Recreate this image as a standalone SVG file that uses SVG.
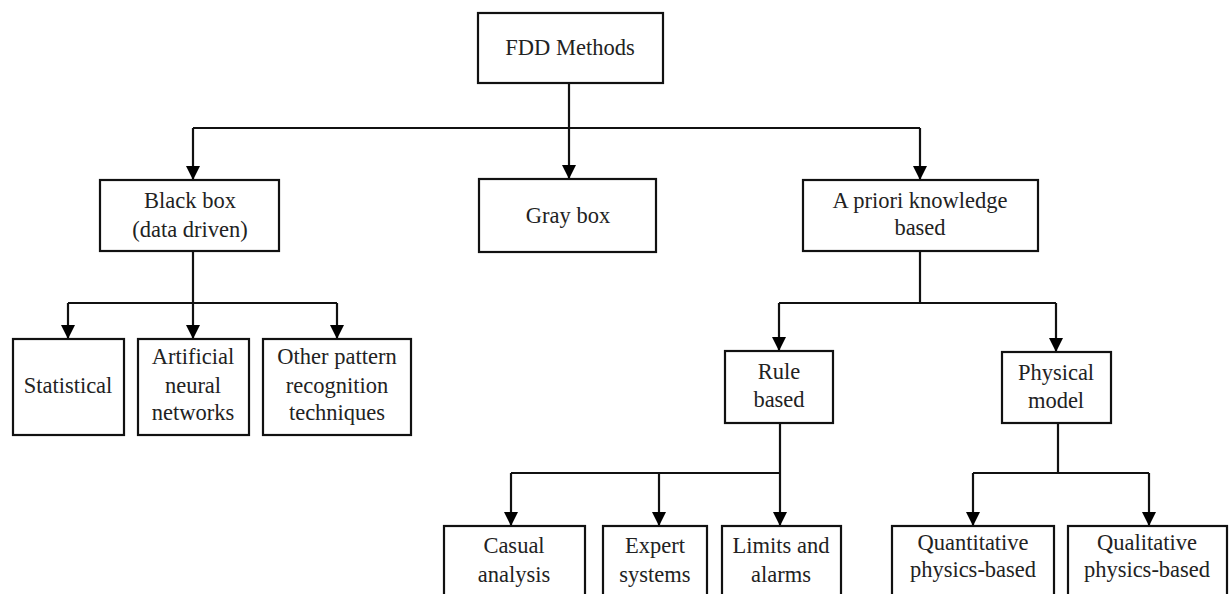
<svg xmlns="http://www.w3.org/2000/svg" width="1230" height="594" viewBox="0 0 1230 594">
<defs>
<marker id="arr" markerUnits="userSpaceOnUse" viewBox="0 0 14 14" refX="14" refY="7" markerWidth="14" markerHeight="14" orient="auto">
<path d="M0,0 L14,7 L0,14 Z" fill="#000"/>
</marker>
<style>
.box{fill:#fff;stroke:#111;stroke-width:2.2}
.t{font-family:"Liberation Serif","Times New Roman",serif;font-size:22.5px;fill:#222;text-anchor:middle}
.c{fill:none;stroke:#111;stroke-width:2.2}
.a{fill:none;stroke:#111;stroke-width:2.2;marker-end:url(#arr)}
</style>
</defs>
<rect width="1230" height="594" fill="#fff"/>
<g id="connectors">
<path class="c" d="M569,83 V128 M193,128 H920"/>
<path class="a" d="M193,128 V180"/>
<path class="a" d="M569,128 V179"/>
<path class="a" d="M920,128 V180"/>
<path class="c" d="M193,251 V303 M68,303 H337"/>
<path class="a" d="M68,303 V339"/>
<path class="a" d="M193,303 V339"/>
<path class="a" d="M337,303 V339"/>
<path class="c" d="M920,251 V303 M779,303 H1056"/>
<path class="a" d="M779,303 V351"/>
<path class="a" d="M1056,303 V352"/>
<path class="c" d="M780,423 V473 M511,473 H780"/>
<path class="a" d="M511,473 V526"/>
<path class="a" d="M659,473 V526"/>
<path class="a" d="M780,473 V526"/>
<path class="c" d="M1058,423 V473 M973,473 H1149"/>
<path class="a" d="M973,473 V526"/>
<path class="a" d="M1149,473 V526"/>
</g>
<g id="fdd"><rect class="box" x="478" y="13" width="185" height="70"/><text class="t" x="570" y="55">FDD Methods</text></g>
<g id="blackbox"><rect class="box" x="100" y="180" width="179" height="71"/><text class="t" x="190" y="208">Black box</text><text class="t" x="190" y="237">(data driven)</text></g>
<g id="graybox"><rect class="box" x="479" y="179" width="177" height="73"/><text class="t" x="568" y="223">Gray box</text></g>
<g id="apriori"><rect class="box" x="803" y="180" width="235" height="71"/><text class="t" x="920" y="208">A priori knowledge</text><text class="t" x="920" y="235">based</text></g>
<g id="statistical"><rect class="box" x="13" y="339" width="111" height="96"/><text class="t" x="68" y="393">Statistical</text></g>
<g id="ann"><rect class="box" x="138" y="339" width="111" height="96"/><text class="t" x="193" y="364">Artificial</text><text class="t" x="193" y="393">neural</text><text class="t" x="193" y="420">networks</text></g>
<g id="other"><rect class="box" x="263" y="339" width="148" height="96"/><text class="t" x="337" y="364">Other pattern</text><text class="t" x="337" y="393">recognition</text><text class="t" x="337" y="420">techniques</text></g>
<g id="rule"><rect class="box" x="725" y="351" width="108" height="72"/><text class="t" x="779" y="379">Rule</text><text class="t" x="779" y="407">based</text></g>
<g id="physical"><rect class="box" x="1002" y="352" width="109" height="71"/><text class="t" x="1056" y="380">Physical</text><text class="t" x="1056" y="408">model</text></g>
<g id="casual"><rect class="box" x="444" y="526" width="141" height="100"/><text class="t" x="514" y="553">Casual</text><text class="t" x="514" y="582">analysis</text></g>
<g id="expert"><rect class="box" x="603" y="526" width="104" height="100"/><text class="t" x="655" y="553">Expert</text><text class="t" x="655" y="582">systems</text></g>
<g id="limits"><rect class="box" x="722" y="526" width="119" height="100"/><text class="t" x="781" y="553">Limits and</text><text class="t" x="781" y="582">alarms</text></g>
<g id="quantitative"><rect class="box" x="892" y="526" width="162" height="100"/><text class="t" x="973" y="550">Quantitative</text><text class="t" x="973" y="577">physics-based</text></g>
<g id="qualitative"><rect class="box" x="1068" y="526" width="159" height="100"/><text class="t" x="1147" y="550">Qualitative</text><text class="t" x="1147" y="577">physics-based</text></g>
</svg>
